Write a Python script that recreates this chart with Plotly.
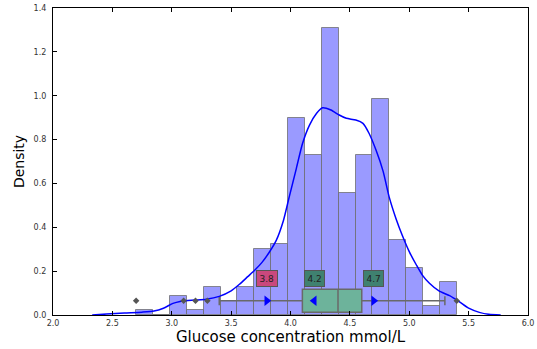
import numpy as np
import plotly.graph_objects as go

# Histogram of glucose readings (density-normalised), 19 equal bins
bin_start, bin_end, n_bins = 2.7, 5.4, 19
bar_density = [0.021, 0.0, 0.087, 0.021, 0.128, 0.065, 0.129, 0.300, 0.322,
               0.900, 0.730, 1.307, 0.558, 0.730, 0.985, 0.342, 0.213, 0.042, 0.149]

# Kernel density estimate of the same readings
kde_x = [2.33, 2.45, 2.60, 2.75, 2.85, 2.93, 3.01, 3.07, 3.12, 3.20, 3.29, 3.40,
         3.50, 3.57, 3.64, 3.70, 3.76, 3.82, 3.88, 3.94, 3.99, 4.05, 4.10, 4.16,
         4.22, 4.27, 4.34, 4.41, 4.47, 4.55, 4.61, 4.66, 4.72, 4.78, 4.83, 4.89,
         4.94, 5.00, 5.06, 5.11, 5.17, 5.25, 5.34, 5.42, 5.50, 5.59, 5.67, 5.77]
kde_y = [0.000, 0.004, 0.009, 0.013, 0.018, 0.031, 0.053, 0.062, 0.065, 0.068,
         0.072, 0.085, 0.110, 0.140, 0.175, 0.205, 0.240, 0.285, 0.340, 0.430,
         0.540, 0.670, 0.780, 0.866, 0.920, 0.945, 0.935, 0.912, 0.897, 0.889,
         0.874, 0.830, 0.752, 0.655, 0.540, 0.437, 0.365, 0.289, 0.228, 0.182,
         0.145, 0.110, 0.088, 0.061, 0.031, 0.012, 0.003, 0.000]

# Box-plot summary
box_q1, box_median, box_q3 = 4.1, 4.4, 4.6
whisker_low, whisker_high = 3.4, 5.3
outliers = [2.7, 3.1, 3.2, 3.3, 5.4]
box_level = 0.065
box_height = 0.105

# Reference markers with labels
marker_vals = [3.8, 4.2, 4.7]
marker_symbols = ["triangle-right", "triangle-left", "triangle-right"]
marker_labels = ["3.8", "4.2", "4.7"]
label_colors = ["#c9487d", "#3f8170", "#3f8170"]
label_level = 0.165

edges = np.linspace(bin_start, bin_end, n_bins + 1)
centers = (edges[:-1] + edges[1:]) / 2
width = edges[1] - edges[0]

fig = go.Figure()

fig.add_trace(go.Bar(
    x=centers, y=bar_density, width=width,
    marker=dict(color="rgb(154,154,255)",
                line=dict(color="rgba(105,105,105,0.75)", width=1)),
    showlegend=False, hoverinfo="skip",
))

fig.add_trace(go.Scatter(
    x=kde_x, y=kde_y, mode="lines",
    line=dict(color="#0000ff", width=1.5, shape="spline", smoothing=0.6),
    showlegend=False,
))

fig.add_trace(go.Box(
    orientation="h", y=[box_level],
    q1=[box_q1], median=[box_median], q3=[box_q3],
    lowerfence=[whisker_low], upperfence=[whisker_high],
    width=box_height, whiskerwidth=0.4,
    fillcolor="#6db39b",
    line=dict(color="rgb(105,105,105)", width=1.5),
    showlegend=False, boxpoints=False,
))

fig.add_trace(go.Scatter(
    x=outliers, y=[box_level] * len(outliers), mode="markers",
    marker=dict(symbol="diamond", size=5, color="#555555"),
    showlegend=False,
))

fig.add_trace(go.Scatter(
    x=marker_vals, y=[box_level] * len(marker_vals), mode="markers",
    marker=dict(symbol=marker_symbols, size=9, color="#0000ff"),
    showlegend=False,
))

for v, lab, col in zip(marker_vals, marker_labels, label_colors):
    fig.add_annotation(
        x=v, y=label_level, text=lab, showarrow=False,
        font=dict(family="DejaVu Sans", size=9, color="#222222"),
        bgcolor=col, bordercolor="#555555", borderwidth=1, borderpad=2.5,
    )

axis_common = dict(
    showgrid=False, zeroline=False, showline=True, linecolor="black",
    linewidth=1.2, ticks="inside", ticklen=4, tickcolor="black",
    tickfont=dict(family="DejaVu Sans", size=8, color="#333333"),
)

fig.update_xaxes(
    range=[2.0, 6.0], tickvals=[2.0, 2.5, 3.0, 3.5, 4.0, 4.5, 5.0, 5.5, 6.0],
    ticktext=["2.0", "2.5", "3.0", "3.5", "4.0", "4.5", "5.0", "5.5", "6.0"],
    mirror="ticks",
    title=dict(text="Glucose concentration mmol/L",
               font=dict(family="DejaVu Sans", size=15, color="black"), standoff=2),
    **axis_common,
)
fig.update_yaxes(
    range=[0.0, 1.4], tickvals=[0.0, 0.2, 0.4, 0.6, 0.8, 1.0, 1.2, 1.4],
    ticktext=["0.0", "0.2", "0.4", "0.6", "0.8", "1.0", "1.2", "1.4"],
    mirror=True, ticklabelstandoff=4,
    title=dict(text="Density",
               font=dict(family="DejaVu Sans", size=14, color="black"), standoff=5),
    **axis_common,
)

fig.update_layout(
    width=537, height=349,
    margin=dict(l=53, r=9, t=8, b=34, autoexpand=False),
    paper_bgcolor="white", plot_bgcolor="white",
    bargap=0, barmode="overlay",
)

fig.write_html("out.html")
